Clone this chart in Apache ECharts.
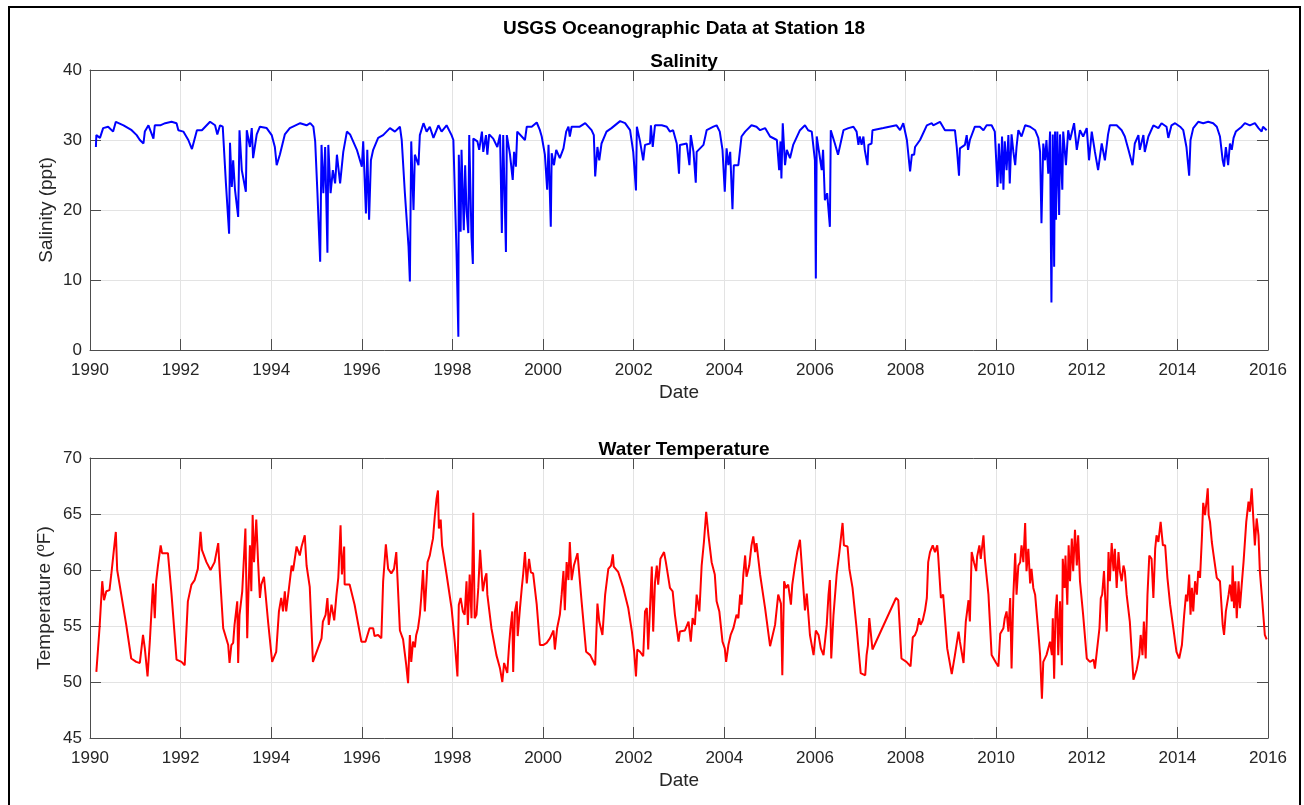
<!DOCTYPE html>
<html>
<head>
<meta charset="utf-8">
<script src="https://cdn.jsdelivr.net/npm/echarts@6/dist/echarts.min.js"></script>
<style>
html,body{margin:0;padding:0;background:#fff;}
#chart{width:1304px;height:805px;}
</style>
</head>
<body>
<div id="chart"></div>
<script>
const mainTitle = 'USGS Oceanographic Data at Station 18';
const salTitle = 'Salinity';
const tempTitle = 'Water Temperature';
const xTicks = [1990, 1992, 1994, 1996, 1998, 2000, 2002, 2004, 2006, 2008, 2010, 2012, 2014, 2016];

const salYears = [
1990.13,1990.14,1990.22,1990.29,1990.40,1990.51,1990.57,1990.74,1990.92,1991.03,1991.10,1991.18,1991.21,1991.29,1991.40,1991.43,1991.55,1991.66,1991.80,1991.91,
1991.95,1992.06,1992.17,1992.25,1992.36,1992.47,1992.65,1992.76,1992.81,1992.87,1992.93,1993.00,1993.07,1993.09,1993.13,1993.16,1993.20,1993.27,1993.30,1993.35,
1993.44,1993.46,1993.53,1993.57,1993.60,1993.68,1993.75,1993.90,1994.01,1994.08,1994.12,1994.19,1994.30,1994.41,1994.64,1994.78,1994.86,1994.93,1994.97,1995.02,
1995.08,1995.11,1995.15,1995.19,1995.24,1995.26,1995.31,1995.36,1995.41,1995.45,1995.52,1995.59,1995.67,1995.74,1995.89,1996.00,1996.03,1996.09,1996.12,1996.16,
1996.20,1996.25,1996.36,1996.47,1996.62,1996.73,1996.84,1996.88,1996.92,1996.95,1997.03,1997.06,1997.09,1997.14,1997.17,1997.25,1997.28,1997.36,1997.43,1997.50,
1997.58,1997.69,1997.76,1997.87,1997.98,1998.02,1998.09,1998.13,1998.14,1998.18,1998.20,1998.25,1998.28,1998.31,1998.35,1998.37,1998.42,1998.45,1998.46,1998.55,
1998.59,1998.65,1998.68,1998.74,1998.77,1998.81,1998.90,1998.99,1999.05,1999.09,1999.12,1999.18,1999.20,1999.27,1999.33,1999.36,1999.40,1999.43,1999.60,1999.64,
1999.75,1999.86,1999.93,1999.97,2000.04,2000.09,2000.12,2000.17,2000.19,2000.24,2000.29,2000.37,2000.45,2000.51,2000.56,2000.59,2000.63,2000.81,2000.93,2001.07,
2001.12,2001.15,2001.20,2001.24,2001.29,2001.40,2001.51,2001.70,2001.81,2001.92,2001.99,2002.05,2002.07,2002.14,2002.21,2002.25,2002.36,2002.38,2002.42,2002.47,
2002.62,2002.73,2002.80,2002.87,2002.95,2003.00,2003.02,2003.17,2003.23,2003.26,2003.32,2003.37,2003.39,2003.54,2003.61,2003.76,2003.83,2003.90,2003.96,2004.01,
2004.05,2004.09,2004.13,2004.18,2004.21,2004.31,2004.38,2004.46,2004.60,2004.71,2004.79,2004.90,2005.01,2005.16,2005.21,2005.24,2005.26,2005.29,2005.34,2005.38,
2005.45,2005.52,2005.67,2005.78,2005.85,2005.93,2006.00,2006.02,2006.04,2006.10,2006.15,2006.18,2006.22,2006.27,2006.33,2006.35,2006.44,2006.51,2006.63,2006.74,
2006.85,2006.92,2006.96,2006.99,2007.03,2007.07,2007.10,2007.16,2007.18,2007.25,2007.27,2007.51,2007.80,2007.88,2007.95,2008.03,2008.10,2008.14,2008.19,2008.21,
2008.32,2008.47,2008.58,2008.61,2008.76,2008.87,2008.98,2009.09,2009.13,2009.18,2009.20,2009.31,2009.35,2009.38,2009.42,2009.53,2009.64,2009.72,2009.79,2009.90,
2009.97,2010.03,2010.06,2010.10,2010.13,2010.16,2010.19,2010.23,2010.27,2010.30,2010.34,2010.38,2010.42,2010.45,2010.49,2010.56,2010.64,2010.75,2010.86,2010.93,
2010.97,2011.00,2011.04,2011.08,2011.11,2011.15,2011.19,2011.21,2011.22,2011.25,2011.28,2011.30,2011.32,2011.35,2011.39,2011.41,2011.46,2011.48,2011.54,2011.59,
2011.63,2011.72,2011.78,2011.85,2011.92,2012.00,2012.05,2012.11,2012.18,2012.25,2012.33,2012.40,2012.47,2012.51,2012.66,2012.77,2012.84,2012.92,2013.01,2013.06,
2013.14,2013.17,2013.25,2013.28,2013.36,2013.47,2013.58,2013.65,2013.76,2013.80,2013.87,2013.95,2014.06,2014.13,2014.20,2014.26,2014.29,2014.35,2014.46,2014.57,
2014.68,2014.79,2014.87,2014.94,2015.00,2015.03,2015.07,2015.12,2015.16,2015.20,2015.24,2015.29,2015.42,2015.49,2015.60,2015.71,2015.79,2015.86,2015.89,2015.97
];
const salValues = [
29.0,30.7,30.3,31.7,31.9,31.2,32.6,32.1,31.4,30.7,30.0,29.5,31.2,32.1,30.2,32.1,32.1,32.4,32.6,32.4,
31.4,31.2,30.0,28.7,31.4,31.4,32.6,32.1,30.8,32.1,31.9,23.8,16.6,29.6,23.3,27.1,22.9,19.0,31.4,25.7,
22.6,31.4,29.0,31.7,27.4,30.8,31.9,31.7,30.7,29.0,26.4,27.9,30.8,31.7,32.4,32.1,32.4,31.9,29.8,22.4,
12.6,29.3,22.4,29.0,13.9,29.3,22.4,25.7,23.8,27.9,23.8,28.3,31.2,30.8,28.6,26.2,29.8,19.5,28.6,18.6,
27.1,28.6,30.3,30.7,31.7,31.2,31.9,30.0,29.8,22.4,14.8,9.8,29.8,20.0,27.9,26.4,30.7,32.4,31.2,31.9,
30.3,32.1,31.2,32.1,30.7,30.0,13.8,1.9,27.9,16.9,28.6,17.1,26.4,20.0,16.7,30.7,16.2,12.3,30.2,29.8,
28.6,31.2,28.3,30.7,27.9,30.8,30.2,29.0,30.8,16.7,30.7,14.0,30.7,27.9,24.3,28.3,26.2,31.2,30.0,31.9,
31.9,32.5,31.4,30.5,27.9,22.9,29.3,17.6,28.1,26.4,28.6,27.4,28.8,31.2,31.9,30.5,31.9,31.9,32.4,31.4,
30.7,24.8,29.0,27.1,29.5,31.2,31.7,32.7,32.4,31.4,28.3,22.8,31.9,29.8,27.1,29.3,29.5,32.1,29.0,32.1,
32.1,31.9,31.2,31.4,29.5,25.2,29.3,29.5,26.4,30.7,28.3,23.9,28.3,29.3,31.4,31.9,32.1,31.2,28.6,22.6,
28.8,26.4,28.3,20.1,26.4,26.4,30.5,31.2,32.1,31.9,31.4,31.7,30.5,30.0,25.7,29.8,24.5,32.4,26.4,28.6,
27.4,29.3,31.4,32.1,31.4,31.2,27.1,10.2,30.5,27.9,25.7,28.6,21.4,22.4,17.6,31.4,29.5,27.9,31.4,31.7,
31.9,31.2,29.3,30.5,29.3,30.5,28.6,26.4,29.3,29.5,31.4,31.7,32.1,31.4,32.4,30.0,25.5,27.9,27.9,29.0,
30.0,32.1,32.4,32.1,32.6,31.4,31.4,31.4,29.0,24.9,28.8,29.3,30.7,28.6,30.0,31.9,31.9,31.4,32.1,32.1,
31.2,23.3,29.5,23.8,30.5,22.9,29.8,25.7,30.7,23.8,30.8,28.3,26.4,29.0,31.4,30.5,32.1,31.9,31.4,30.3,
28.3,18.1,29.5,27.1,30.0,25.2,31.2,13.8,6.8,30.8,11.9,31.2,18.6,31.2,19.3,30.8,22.9,31.2,26.4,31.4,
30.0,32.4,28.6,31.4,30.5,31.7,27.1,31.2,28.3,25.7,29.5,27.1,30.8,32.1,32.1,31.4,30.5,28.6,26.4,29.5,
30.7,28.6,30.7,28.3,30.5,32.1,31.7,32.4,31.9,30.3,32.1,32.4,31.9,31.4,29.0,24.9,30.0,31.7,32.6,32.4,
32.6,32.4,31.9,30.5,27.1,26.2,29.0,26.4,29.5,28.6,30.3,31.2,31.9,32.4,32.1,32.4,31.7,31.2,31.9,31.4
];

const tempYears = [
1990.14,1990.21,1990.27,1990.31,1990.36,1990.43,1990.47,1990.53,1990.57,1990.60,1990.69,1990.80,1990.91,1991.02,1991.10,1991.17,1991.21,1991.27,1991.32,1991.39,
1991.43,1991.46,1991.50,1991.56,1991.59,1991.72,1991.80,1991.91,1992.02,1992.09,1992.16,1992.24,1992.31,1992.38,1992.44,1992.47,1992.57,1992.66,1992.75,1992.83,
1992.86,1992.94,1993.05,1993.08,1993.12,1993.16,1993.19,1993.25,1993.27,1993.30,1993.36,1993.40,1993.43,1993.47,1993.50,1993.53,1993.56,1993.59,1993.62,1993.67,
1993.71,1993.75,1993.78,1993.84,1993.93,1994.02,1994.11,1994.17,1994.22,1994.26,1994.30,1994.33,1994.41,1994.45,1994.48,1994.56,1994.63,1994.67,1994.74,1994.78,
1994.85,1994.92,1995.03,1995.11,1995.14,1995.20,1995.24,1995.27,1995.33,1995.39,1995.44,1995.48,1995.53,1995.56,1995.61,1995.62,1995.73,1995.84,1995.99,1996.08,
1996.17,1996.25,1996.28,1996.36,1996.43,1996.47,1996.53,1996.58,1996.65,1996.71,1996.76,1996.84,1996.91,1996.98,1997.02,1997.06,1997.09,1997.13,1997.17,1997.20,
1997.24,1997.28,1997.31,1997.35,1997.39,1997.45,1997.50,1997.54,1997.57,1997.61,1997.65,1997.68,1997.70,1997.74,1997.77,1997.87,1997.98,1998.05,1998.11,1998.14,
1998.18,1998.23,1998.27,1998.31,1998.34,1998.38,1998.42,1998.46,1998.49,1998.53,1998.57,1998.61,1998.67,1998.72,1998.75,1998.77,1998.86,1998.97,1999.05,1999.10,
1999.14,1999.18,1999.21,1999.25,1999.28,1999.32,1999.34,1999.38,1999.42,1999.44,1999.49,1999.53,1999.56,1999.60,1999.64,1999.69,1999.73,1999.78,1999.86,1999.93,
2000.00,2000.08,2000.15,2000.23,2000.26,2000.31,2000.37,2000.41,2000.45,2000.48,2000.52,2000.56,2000.59,2000.63,2000.68,2000.76,2000.85,2000.95,2001.04,2001.15,
2001.20,2001.24,2001.31,2001.37,2001.44,2001.50,2001.54,2001.56,2001.66,2001.77,2001.88,2001.96,2002.01,2002.05,2002.08,2002.14,2002.21,2002.25,2002.29,2002.32,
2002.36,2002.40,2002.43,2002.47,2002.51,2002.54,2002.59,2002.67,2002.71,2002.80,2002.86,2002.91,2002.99,2003.02,2003.13,2003.21,2003.26,2003.30,2003.35,2003.39,
2003.45,2003.50,2003.55,2003.60,2003.65,2003.72,2003.79,2003.83,2003.89,2003.96,2004.01,2004.04,2004.09,2004.14,2004.20,2004.27,2004.31,2004.35,2004.38,2004.42,
2004.46,2004.49,2004.55,2004.60,2004.64,2004.68,2004.71,2004.79,2004.90,2005.01,2005.12,2005.19,2005.25,2005.28,2005.32,2005.36,2005.41,2005.47,2005.50,2005.56,
2005.61,2005.67,2005.71,2005.78,2005.82,2005.89,2005.97,2006.02,2006.08,2006.13,2006.19,2006.26,2006.30,2006.33,2006.36,2006.41,2006.48,2006.54,2006.61,2006.64,
2006.72,2006.76,2006.83,2006.92,2007.01,2007.11,2007.14,2007.17,2007.20,2007.27,2007.79,2007.84,2007.91,2008.02,2008.11,2008.16,2008.21,2008.25,2008.30,2008.33,
2008.38,2008.43,2008.47,2008.50,2008.54,2008.60,2008.65,2008.70,2008.72,2008.78,2008.83,2008.87,2008.92,2009.02,2009.09,2009.17,2009.20,2009.24,2009.28,2009.33,
2009.39,2009.42,2009.46,2009.51,2009.56,2009.58,2009.63,2009.66,2009.72,2009.75,2009.83,2009.90,2010.00,2010.05,2010.09,2010.12,2010.16,2010.19,2010.23,2010.27,
2010.31,2010.34,2010.38,2010.42,2010.45,2010.49,2010.53,2010.56,2010.60,2010.64,2010.67,2010.71,2010.75,2010.78,2010.82,2010.86,2010.93,2010.97,2011.01,2011.04,
2011.11,2011.19,2011.23,2011.25,2011.28,2011.31,2011.34,2011.37,2011.41,2011.45,2011.47,2011.51,2011.53,2011.57,2011.60,2011.63,2011.67,2011.70,2011.74,2011.78,
2011.81,2011.85,2011.92,2012.00,2012.07,2012.15,2012.18,2012.23,2012.28,2012.31,2012.34,2012.38,2012.41,2012.44,2012.48,2012.51,2012.55,2012.59,2012.62,2012.66,
2012.70,2012.73,2012.77,2012.81,2012.84,2012.88,2012.95,2013.03,2013.10,2013.16,2013.19,2013.23,2013.26,2013.30,2013.34,2013.38,2013.43,2013.47,2013.51,2013.54,
2013.58,2013.63,2013.68,2013.73,2013.78,2013.84,2013.91,2013.98,2014.04,2014.10,2014.15,2014.19,2014.22,2014.26,2014.29,2014.32,2014.35,2014.39,2014.43,2014.46,
2014.50,2014.54,2014.57,2014.61,2014.65,2014.67,2014.69,2014.72,2014.76,2014.79,2014.87,2014.94,2015.00,2015.03,2015.07,2015.13,2015.16,2015.20,2015.22,2015.25,
2015.28,2015.31,2015.35,2015.38,2015.42,2015.46,2015.52,2015.57,2015.60,2015.64,2015.68,2015.71,2015.75,2015.79,2015.82,2015.88,2015.93,2015.97
];
const tempValues = [
50.9,54.8,59.0,57.3,58.1,58.2,59.6,61.9,63.4,60.0,57.8,55.1,52.1,51.8,51.7,54.2,53.0,50.5,53.6,58.8,
55.7,59.0,60.4,62.2,61.5,61.5,57.8,52.0,51.8,51.5,57.2,58.7,59.1,60.1,63.4,61.8,60.7,60.0,60.7,62.4,
60.1,54.8,53.3,51.7,53.3,53.5,55.1,57.2,51.7,56.0,58.1,61.3,63.7,53.9,58.4,62.2,58.1,64.9,60.7,64.5,
60.7,57.5,58.7,59.4,55.4,51.8,52.7,56.3,57.5,56.3,58.1,56.3,59.0,60.4,59.9,62.1,61.3,62.1,63.1,60.4,
58.5,51.8,53.0,53.9,55.4,56.0,57.5,55.1,56.9,55.5,57.8,59.3,64.0,59.6,62.1,58.7,58.7,56.9,53.6,53.6,
54.8,54.8,54.1,54.2,53.9,59.0,62.3,60.1,59.7,60.1,61.6,54.6,53.8,51.5,49.9,54.2,51.8,53.6,53.1,54.2,
54.8,56.0,57.5,60.0,56.3,60.7,61.3,62.2,62.8,64.8,66.4,67.1,63.7,64.5,62.2,59.6,56.6,53.6,50.5,56.9,
57.5,56.3,56.0,59.0,55.1,59.6,55.7,65.1,55.7,56.0,58.4,61.8,58.1,59.3,59.7,57.8,54.8,52.4,51.2,50.0,
51.7,51.8,50.8,53.3,54.8,56.3,50.9,56.3,57.2,54.1,56.6,58.4,59.6,61.6,58.8,61.0,59.8,59.7,56.9,53.3,
53.3,53.5,53.9,54.6,52.9,54.8,56.0,57.8,59.9,56.4,60.7,59.1,62.5,59.1,60.4,61.5,57.2,52.7,52.4,51.5,
57.0,55.4,54.2,57.8,60.1,60.4,61.4,60.3,59.8,58.4,56.6,54.5,52.7,50.5,52.9,52.7,52.3,56.3,56.6,52.9,
56.6,60.3,54.5,58.9,60.4,58.7,61.0,61.6,60.7,58.4,58.1,56.0,53.6,54.5,54.6,55.4,53.6,55.7,55.1,57.8,
56.3,60.4,62.5,65.2,63.1,60.7,59.6,57.2,56.3,53.6,53.0,51.8,53.3,54.2,54.8,56.0,55.7,57.8,56.9,59.6,
61.3,59.4,60.4,62.2,63.0,61.6,62.4,59.6,56.6,53.2,55.1,57.8,57.0,50.6,59.0,58.4,58.7,56.9,58.7,60.4,
61.6,62.7,60.4,56.4,57.9,54.2,52.4,54.6,54.2,53.0,52.4,55.1,57.8,59.1,52.1,56.0,59.6,61.6,64.2,62.2,
62.1,60.1,58.4,54.8,50.8,50.6,52.4,53.3,55.7,52.9,57.5,57.3,52.1,51.8,51.4,54.0,54.2,54.6,55.7,55.1,
55.5,56.4,57.5,60.7,61.6,62.2,61.6,62.2,61.3,57.5,57.8,57.8,53.0,50.7,52.4,54.5,53.6,53.6,51.7,55.4,
57.3,55.4,61.6,60.7,59.9,61.2,62.2,61.0,63.1,61.0,57.8,52.4,51.7,51.4,54.3,54.2,54.8,55.7,56.3,54.5,
57.5,51.2,57.8,61.5,57.8,60.4,60.7,62.2,60.7,64.2,59.9,61.9,58.8,60.1,58.4,57.8,54.5,52.4,48.5,51.8,
52.4,53.6,52.4,55.7,50.3,56.3,57.8,52.4,57.2,51.5,61.0,58.4,61.3,56.9,62.2,59.0,62.8,59.9,63.6,60.4,
63.1,59.0,56.0,52.1,51.8,52.0,51.2,53.0,54.8,57.5,57.8,59.9,57.2,54.5,61.6,59.0,62.4,59.9,61.9,58.4,
61.6,59.9,59.0,60.4,59.9,57.8,55.4,50.2,51.1,52.4,54.2,52.4,55.4,52.1,57.8,61.3,61.0,57.5,61.9,63.1,
62.5,64.3,62.2,62.2,59.3,56.9,54.8,52.7,52.1,53.3,56.0,57.8,57.2,59.6,56.0,58.4,56.3,59.0,57.8,59.9,
59.3,62.8,66.0,64.9,66.4,67.3,64.9,64.3,62.5,61.6,59.3,59.0,55.1,54.2,56.3,57.8,58.7,57.2,60.4,56.6,
59.0,55.7,59.0,56.6,58.7,60.7,64.3,66.1,65.2,67.3,64.3,62.2,64.6,63.1,59.9,56.9,54.2,53.8
];

const salData = salYears.map((y, i) => [y, salValues[i]]);
const tempData = tempYears.map((y, i) => [y, tempValues[i]]);

const FONT = 'Liberation Sans, Arial, Helvetica, sans-serif';
const TXT = '#262626';
const AXC = '#4d4d4d';
const GRIDC = '#e3e3e3';
const TICK_FS = 17;
const NAME_FS = 19;
const TITLE_FS = 19;

function xAx(gi, pos, showLabels) {
  return {
    type: 'value', gridIndex: gi, position: pos,
    min: 1990, max: 2016, interval: 2,
    name: showLabels ? 'Date' : '', nameLocation: 'middle', nameGap: 33,
    nameTextStyle: {fontFamily: FONT, fontSize: NAME_FS, color: TXT},
    axisLine: {show: true, onZero: false, lineStyle: {color: AXC, width: 1}},
    axisTick: {show: true, inside: true, length: 11, lineStyle: {color: AXC, width: 1}},
    axisLabel: {show: showLabels, margin: 12, fontFamily: FONT, fontSize: TICK_FS, color: TXT,
      formatter: v => (xTicks.indexOf(v) >= 0 ? String(v) : '')},
    splitLine: {show: showLabels, lineStyle: {color: GRIDC, width: 1}}
  };
}
function yAx(gi, pos, showLabels, mn, mx, iv, name) {
  return {
    type: 'value', gridIndex: gi, position: pos,
    min: mn, max: mx, interval: iv,
    name: showLabels ? name : '', nameLocation: 'middle', nameGap: 34,
    nameMoveOverlap: false,
    nameTextStyle: {fontFamily: FONT, fontSize: NAME_FS, color: TXT,
      rich: {sup: {fontFamily: FONT, fontSize: 13, color: TXT, verticalAlign: 'top', lineHeight: 22},
             t: {fontFamily: FONT, fontSize: NAME_FS, color: TXT, lineHeight: 22}}},
    axisLine: {show: true, onZero: false, lineStyle: {color: AXC, width: 1}},
    axisTick: {show: true, inside: true, length: 11, lineStyle: {color: AXC, width: 1}},
    axisLabel: {show: showLabels, margin: 8, fontFamily: FONT, fontSize: TICK_FS, color: TXT},
    splitLine: {show: showLabels, lineStyle: {color: GRIDC, width: 1}}
  };
}

const chart = echarts.init(document.getElementById('chart'), null, {renderer: 'canvas'});
chart.setOption({
  backgroundColor: '#ffffff',
  animation: false,
  title: [
    {text: mainTitle, left: 679, top: 14, textAlign: 'center',
     textStyle: {fontFamily: FONT, fontSize: TITLE_FS, fontWeight: 'bold', color: '#000'}},
    {text: salTitle, left: 679, top: 47, textAlign: 'center',
     textStyle: {fontFamily: FONT, fontSize: TITLE_FS, fontWeight: 'bold', color: '#000'}},
    {text: tempTitle, left: 679, top: 435, textAlign: 'center',
     textStyle: {fontFamily: FONT, fontSize: TITLE_FS, fontWeight: 'bold', color: '#000'}}
  ],
  graphic: [
    {type: 'rect', shape: {x: 9, y: 7, width: 1291, height: 810}, style: {fill: 'none', stroke: '#000', lineWidth: 2}, silent: true}
  ],
  grid: [
    {left: 90, top: 70, width: 1178, height: 280, containLabel: false},
    {left: 90, top: 458, width: 1178, height: 280, containLabel: false}
  ],
  xAxis: [xAx(0, 'bottom', true), xAx(0, 'top', false), xAx(1, 'bottom', true), xAx(1, 'top', false)],
  yAxis: [
    yAx(0, 'left', true, 0, 40, 10, 'Salinity (ppt)'),
    yAx(0, 'right', false, 0, 40, 10, ''),
    yAx(1, 'left', true, 45, 70, 5, '{t|Temperature (}{sup|o}{t|F)}'),
    yAx(1, 'right', false, 45, 70, 5, '')
  ],
  series: [
    {type: 'line', xAxisIndex: 0, yAxisIndex: 0, data: salData, showSymbol: false, symbol: 'none',
     lineStyle: {color: '#0000ff', width: 2}, itemStyle: {color: '#0000ff'}},
    {type: 'line', xAxisIndex: 2, yAxisIndex: 2, data: tempData, showSymbol: false, symbol: 'none',
     lineStyle: {color: '#ff0000', width: 2}, itemStyle: {color: '#ff0000'}}
  ]
});
</script>
</body>
</html>
